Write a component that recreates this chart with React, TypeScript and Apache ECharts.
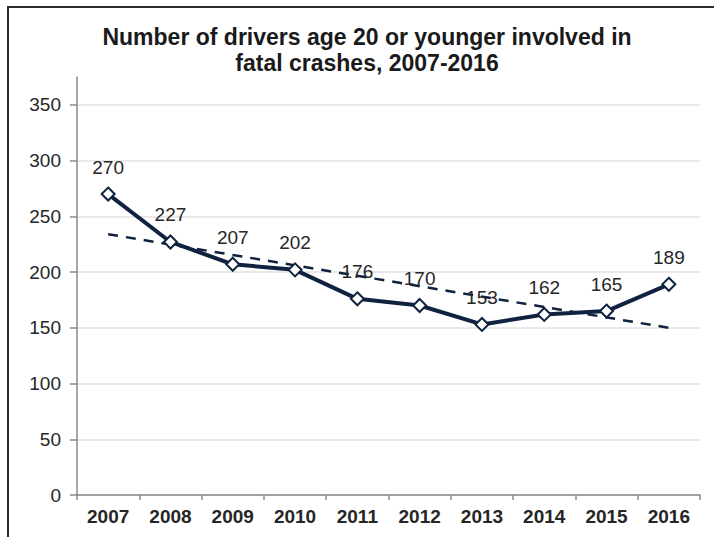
import React, { useEffect, useRef } from 'react';
import * as echarts from 'echarts';

const years = ['2007', '2008', '2009', '2010', '2011', '2012', '2013', '2014', '2015', '2016'];
const drivers = [270, 227, 207, 202, 176, 170, 153, 162, 165, 189];
const trend = [234, null, null, null, null, null, null, null, null, 150];
const yTicks = [0, 50, 100, 150, 200, 250, 300, 350];
const titleText = 'Number of drivers age 20 or younger involved in\nfatal crashes, 2007-2016';

const FONT = '"Liberation Sans", Arial, sans-serif';
const NAVY = '#0f2340';

export default function App() {
  const ref = useRef<HTMLDivElement>(null);
  useEffect(() => {
    const chart = echarts.init(ref.current!, null, { renderer: 'svg' });
    chart.setOption({
      animation: false,
      backgroundColor: '#ffffff',
      textStyle: { fontFamily: FONT },
      title: {
        text: titleText,
        left: 362,
        top: 19,
        textAlign: 'center',
        textStyle: { fontFamily: FONT, fontSize: 23, fontWeight: 'bold', color: '#1a1a1a', lineHeight: 26 },
      },
      graphic: [
        {
          type: 'polyline',
          shape: { points: [[8, 537], [8, 7], [714, 7]] },
          style: { stroke: '#2b2b2b', lineWidth: 2, fill: 'none' },
          silent: true,
        },
      ],
      grid: { left: 77, right: 14, top: 77, bottom: 44, containLabel: false },
      xAxis: {
        type: 'category',
        data: years,
        boundaryGap: true,
        axisLine: { lineStyle: { color: '#8a8a8a', width: 1.5 } },
        axisTick: { show: true, length: 5, lineStyle: { color: '#8a8a8a', width: 1.5 } },
        axisLabel: { fontFamily: FONT, fontSize: 19, fontWeight: 'bold', color: '#262626', margin: 12 },
        splitLine: { show: false },
      },
      yAxis: {
        type: 'value',
        min: 0,
        max: 375,
        interval: 25,
        axisLine: { show: true, lineStyle: { color: '#8a8a8a', width: 1.5 } },
        axisTick: { show: true, length: 7, customValues: yTicks, lineStyle: { color: '#8a8a8a', width: 1.5 } },
        axisLabel: { fontFamily: FONT, fontSize: 19, color: '#262626', margin: 16, customValues: yTicks },
        splitLine: { show: true, lineStyle: { color: '#e2e2e2', width: 1.5 } },
      },
      series: [
        {
          type: 'line',
          data: trend,
          connectNulls: true,
          symbol: 'none',
          lineStyle: { color: NAVY, width: 2.5, type: [10, 8] },
          silent: true,
          z: 2,
        },
        {
          type: 'line',
          data: drivers,
          symbol: 'diamond',
          symbolSize: 13,
          itemStyle: { color: '#ffffff', borderColor: NAVY, borderWidth: 2 },
          lineStyle: { color: NAVY, width: 4 },
          label: {
            show: true,
            position: 'top',
            distance: 10,
            fontFamily: FONT,
            fontSize: 19,
            color: '#262626',
          },
          z: 3,
        },
      ],
    });
    return () => chart.dispose();
  }, []);
  return (
    <div
      ref={ref}
      style={{ position: 'fixed', left: 0, top: 0, width: 714, height: 539, background: '#fff' }}
    />
  );
}
